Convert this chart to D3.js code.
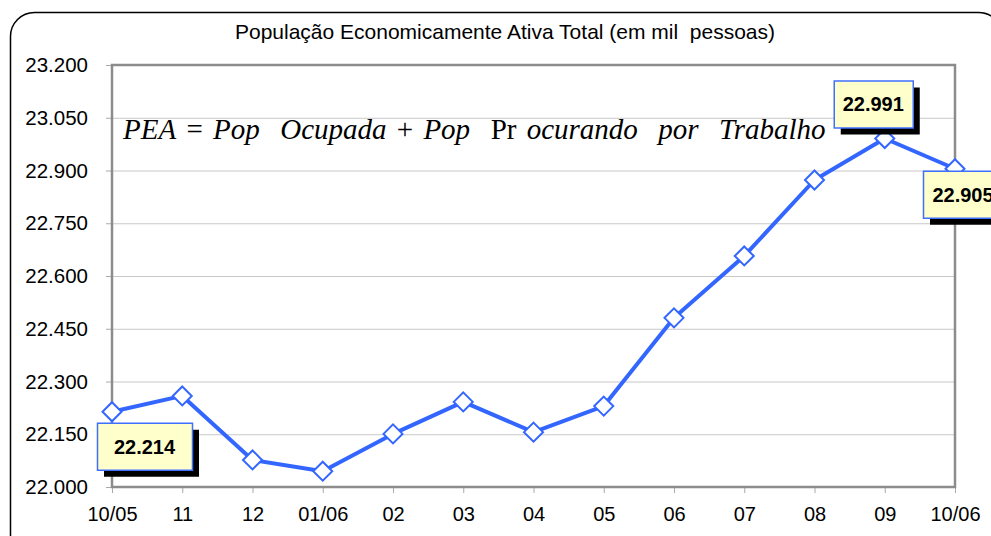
<!DOCTYPE html>
<html>
<head>
<meta charset="utf-8">
<script src="https://cdn.jsdelivr.net/npm/d3@7"></script>
<style>
  body { margin: 0; background: #fff; }
  text { font-family: "Liberation Sans", Arial, sans-serif; }
</style>
</head>
<body>
<div id="chart"></div>
<script>
(function() {

    const months = ["10/05", "11", "12", "01/06", "02", "03", "04", "05", "06", "07", "08", "09", "10/06"];
    const pea = [22214, 22259, 22077, 22045, 22151, 22242, 22156, 22230, 22481, 22657, 22873, 22991, 22905];
    const yTicks = [22000, 22150, 22300, 22450, 22600, 22750, 22900, 23050, 23200];
    const labelled = [0, 11, 12];

    const title = "População Economicamente Ativa Total (em mil  pessoas)";
    const formula = [
        {t: "PEA", it: true}, {t: " = ", it: false}, {t: "Pop  Ocupada", it: true},
        {t: " + ", it: false}, {t: "Pop  ", it: true}, {t: "Pr", it: false},
        {t: " ocurando  por  Trabalho", it: true}
    ];

    const width = 991;
    const height = 536;
    const margin = {top: 65, right: 36, bottom: 49, left: 112};

    const fmt = v => (v / 1000).toFixed(3);

    const svg = d3.select("#chart").append("svg")
        .attr("width", width)
        .attr("height", height);

    // outer rounded frame
    svg.append("rect")
        .attr("x", 10.5).attr("y", 12.5)
        .attr("width", 992).attr("height", 600)
        .attr("rx", 24)
        .attr("fill", "none")
        .attr("stroke", "#000")
        .attr("stroke-width", 1.5);

    svg.append("text")
        .attr("x", 505).attr("y", 39)
        .attr("text-anchor", "middle")
        .style("font-size", "21px")
        .style("white-space", "pre")
        .text(title);

    const x = d3.scalePoint()
        .domain(months)
        .range([margin.left, width - margin.right]);

    const y = d3.scaleLinear()
        .domain([22000, 23200])
        .range([height - margin.bottom, margin.top]);

    // grid
    svg.append("g")
        .selectAll("line")
        .data(yTicks)
        .join("line")
        .attr("x1", margin.left).attr("x2", width - margin.right)
        .attr("y1", d => y(d) + 0.5).attr("y2", d => y(d) + 0.5)
        .attr("stroke", "#c8c8c8");

    const yAxis = svg.append("g")
        .attr("transform", `translate(${margin.left},0)`)
        .call(d3.axisLeft(y).tickValues(yTicks).tickFormat(fmt).tickSize(6).tickPadding(18));
    yAxis.select(".domain").remove();
    yAxis.selectAll(".tick line").attr("stroke", "#aaa");
    yAxis.selectAll("text").style("font-size", "20.5px").attr("fill", "#000")
        .style("font-family", "'Liberation Sans', Arial, sans-serif");

    const xAxis = svg.append("g")
        .attr("transform", `translate(0,${height - margin.bottom})`)
        .call(d3.axisBottom(x).tickSize(6).tickPadding(14));
    xAxis.select(".domain").remove();
    xAxis.selectAll(".tick line").attr("stroke", "#aaa");
    xAxis.selectAll("text").style("font-size", "20px").attr("fill", "#000")
        .style("font-family", "'Liberation Sans', Arial, sans-serif");

    // plot border
    svg.append("rect")
        .attr("x", margin.left).attr("y", margin.top)
        .attr("width", width - margin.right - margin.left)
        .attr("height", height - margin.bottom - margin.top)
        .attr("fill", "none")
        .attr("stroke", "#8c8c8c")
        .attr("stroke-width", 2.5);

    // formula
    const ft = svg.append("text")
        .attr("x", 123).attr("y", 139)
        .style("font-size", "29px")
        .style("word-spacing", "3px")
        .style("white-space", "pre")
        .style("font-family", "'Liberation Serif', 'Times New Roman', serif");
    ft.selectAll("tspan")
        .data(formula)
        .join("tspan")
        .style("font-style", d => d.it ? "italic" : "normal")
        .text(d => d.t);

    // line
    const line = d3.line()
        .x((d, i) => x(months[i]))
        .y(d => y(d));

    svg.append("path")
        .datum(pea)
        .attr("d", line)
        .attr("fill", "none")
        .attr("stroke", "#3366ff")
        .attr("stroke-width", 4)
        .attr("stroke-linejoin", "round");

    svg.append("g")
        .selectAll("path")
        .data(pea)
        .join("path")
        .attr("transform", (d, i) => `translate(${x(months[i])},${y(d)})`)
        .attr("d", "M0,-9.5L9.5,0L0,9.5L-9.5,0Z")
        .attr("fill", "#fff")
        .attr("stroke", "#3366ff")
        .attr("stroke-width", 2);

    // data labels
    const boxes = {
        0: {dx: -15, dy: 11, w: 95},
        11: {dx: -51, dy: -58, w: 79},
        12: {dx: -32, dy: 2, w: 80}
    };
    const lab = svg.append("g")
        .selectAll("g")
        .data(labelled)
        .join("g")
        .attr("transform", i => `translate(${x(months[i]) + boxes[i].dx},${y(pea[i]) + boxes[i].dy})`);

    lab.append("rect")
        .attr("x", 7).attr("y", 7)
        .attr("width", i => boxes[i].w).attr("height", 47)
        .attr("fill", "#000");
    lab.append("rect")
        .attr("x", 0.5).attr("y", 0.5)
        .attr("width", i => boxes[i].w).attr("height", 47)
        .attr("fill", "#ffffcc")
        .attr("stroke", "#3f6fff")
        .attr("stroke-width", 1.5);
    lab.append("text")
        .attr("x", i => boxes[i].w / 2).attr("y", 31)
        .attr("text-anchor", "middle")
        .style("font-size", "20px")
        .style("font-weight", "bold")
        .text(i => fmt(pea[i]));

})();
</script>
</body>
</html>
